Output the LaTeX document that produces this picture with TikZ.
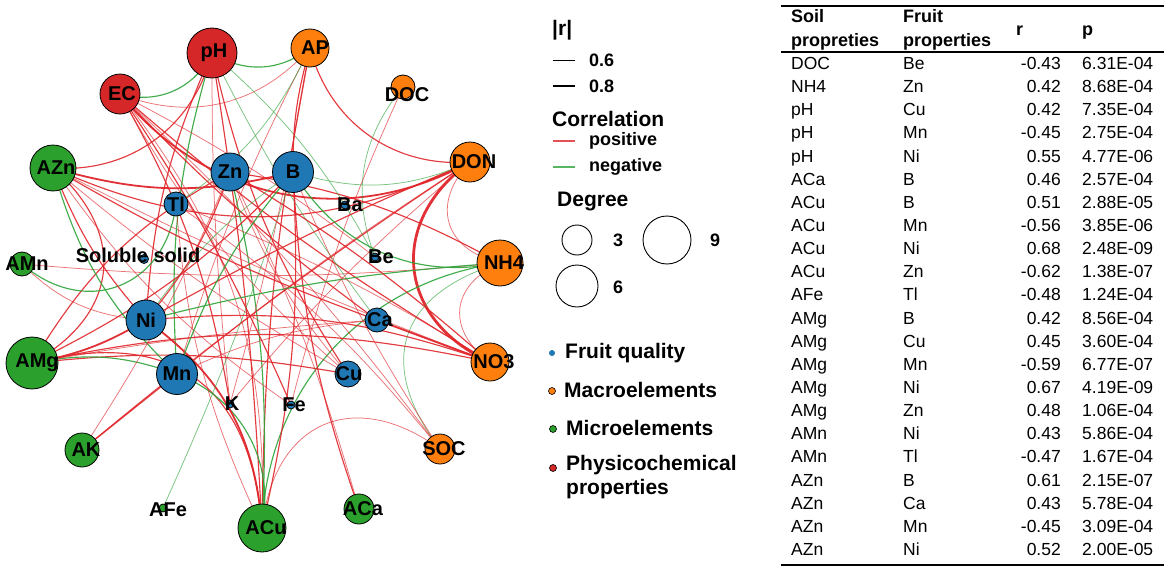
\documentclass[tikz,border=0pt]{standalone}
\usepackage{fontspec}
\setmainfont{Liberation Sans}
\usetikzlibrary{backgrounds}

\definecolor{fqblue}{HTML}{1F77B4}
\definecolor{maorange}{HTML}{FF7F0E}
\definecolor{migreen}{HTML}{2CA02C}
\definecolor{pcred}{HTML}{D62728}
\definecolor{edgered}{HTML}{E0262B}
\definecolor{edgegreen}{HTML}{2FA33A}

\tikzset{
  vtx/.style={circle, draw=black, line width=0.8pt, inner sep=0pt},
  fq/.style={vtx, fill=fqblue},
  ma/.style={vtx, fill=maorange},
  mi/.style={vtx, fill=migreen},
  pc/.style={vtx, fill=pcred},
  lbl/.style={inner sep=0pt, xshift=3pt, font=\bfseries\fontsize{20}{24}\selectfont},
  posc/.style={draw=edgered},
  negc/.style={draw=edgegreen},
  wthin/.style={line width=0.75pt, draw opacity=0.65},
  wmid/.style={line width=1.15pt, draw opacity=0.9},
  wthick/.style={line width=1.8pt, draw opacity=0.95},
  wheavy/.style={line width=2.8pt, draw opacity=0.95},
  ttl/.style={inner sep=0pt, anchor=west, font=\bfseries\fontsize{21}{25}\selectfont},
  itm/.style={inner sep=0pt, anchor=west, font=\bfseries\fontsize{18}{22}\selectfont},
  grp/.style={inner sep=0pt, anchor=west, font=\bfseries\fontsize{21}{25}\selectfont},
  cell/.style={inner sep=0pt, text height=12.5pt, text depth=3.5pt, font=\fontsize{17.5}{21}\selectfont},
  hcell/.style={inner sep=0pt, anchor=west, text height=12.5pt, text depth=3.5pt, font=\bfseries\fontsize{18}{21}\selectfont},
}

\begin{document}
\begin{tikzpicture}[x=1pt,y=-1pt]
\useasboundingbox (0,0) rectangle (1170,570);

% network nodes
\node[pc, minimum size=50pt, label={[lbl,xshift=-1pt]center:pH}] (pH) at (212,53) {};
\node[pc, minimum size=40pt, label={[lbl,xshift=-1pt]center:EC}] (EC) at (120,94) {};
\node[ma, minimum size=38pt, label={[lbl,xshift=2pt]center:AP}] (AP) at (310,48) {};
\node[ma, minimum size=24pt, label={[lbl,xshift=1pt,yshift=-8pt]center:DOC}] (DOC) at (403,87) {};
\node[ma, minimum size=40pt, label={[lbl,xshift=1pt]center:DON}] (DON) at (470,162) {};
\node[ma, minimum size=46pt, label={[lbl,xshift=1pt]center:NH4}] (NH4) at (500,263) {};
\node[ma, minimum size=38pt, label={[lbl,xshift=1pt]center:NO3}] (NO3) at (490,362) {};
\node[ma, minimum size=30pt, label={[lbl,xshift=1pt]center:SOC}] (SOC) at (440,449) {};
\node[mi, minimum size=30pt, label={[lbl,xshift=1pt]center:ACa}] (ACa) at (359,509) {};
\node[mi, minimum size=48pt, label={[lbl,xshift=1pt]center:ACu}] (ACu) at (262,528) {};
\node[mi, minimum size=8pt, label={[lbl,xshift=2pt,yshift=-2pt]center:AFe}] (AFe) at (163,508) {};
\node[mi, minimum size=34pt, label={[lbl,xshift=1pt]center:AK}] (AK) at (82,450) {};
\node[mi, minimum size=52pt, label={[lbl,xshift=2pt]center:AMg}] (AMg) at (32,363) {};
\node[mi, minimum size=24pt, label={[lbl,xshift=2pt]center:AMn}] (AMn) at (22,264) {};
\node[mi, minimum size=46pt, label={[lbl]center:AZn}] (AZn) at (53,168) {};
\node[fq, minimum size=38pt, label={[lbl,xshift=-3pt]center:Zn}] (Zn) at (230,172) {};
\node[fq, minimum size=41pt, label={[lbl,xshift=-3pt]center:B}] (B) at (293,172) {};
\node[fq, minimum size=24pt, label={[lbl,xshift=-3pt]center:Tl}] (Tl) at (176,204) {};
\node[fq, minimum size=9pt, label={[lbl,xshift=-9pt,yshift=4pt]center:Soluble solid}] (Sol) at (144,259) {};
\node[fq, minimum size=8pt, label={[lbl,xshift=2pt]center:Ba}] (Ba) at (345,205) {};
\node[fq, minimum size=8pt, label={[lbl,xshift=3pt]center:Be}] (Be) at (375,257) {};
\node[fq, minimum size=40pt, label={[lbl,xshift=-3pt]center:Ni}] (Ni) at (146,320) {};
\node[fq, minimum size=24pt, label={[lbl]center:Ca}] (Ca) at (377,320) {};
\node[fq, minimum size=41pt, label={[lbl,xshift=-3pt]center:Mn}] (Mn) at (177,374) {};
\node[fq, minimum size=26pt, label={[lbl,xshift=-2pt]center:Cu}] (Cu) at (348,374) {};
\node[fq, minimum size=8pt, label={[lbl,xshift=-1pt]center:K}] (K) at (230,404) {};
\node[fq, minimum size=8pt, label={[lbl]center:Fe}] (Fe) at (291,405) {};

% correlation edges
\begin{scope}[on background layer]
% soil - soil
\draw[negc,wmid] (EC.center) to[bend right=40] (pH.center);
\draw[negc,wmid] (pH.center) to[bend right=35] (AP.center);
\draw[posc,wthin] (EC.center) to[bend right=35] (AP.center);
\draw[posc,wmid] (AZn.center) to[bend right=40] (pH.center);
\draw[posc,wmid] (AP.center) to[bend right=40] (DON.center);
\draw[posc,wthin] (DON.center) to[bend right=60,looseness=1.4] (NH4.center);
\draw[posc,wthin] (NH4.center) to[bend right=60,looseness=1.4] (NO3.center);
\draw[posc,wheavy] (DON.center) to[bend right=60,looseness=1.3] (NO3.center);
\draw[posc,wthick] (DON.center) to[bend left=40] (EC.center);
\draw[posc,wmid] (DON.center) to[bend left=25] (AZn.center);
\draw[posc,wthin] (SOC.center) to[bend right=60,looseness=1.4] (ACu.center);
\draw[negc,wthin] (NH4.center) to[bend right=55,looseness=1.4] (SOC.center);
\draw[negc,wmid] (ACu.center) to[bend left=40] (NH4.center);
\draw[posc,wmid] (AZn.center) to[bend left=55,looseness=1.3] (AMg.center);
\draw[posc,wmid] (AMg.center) to[bend left=50,looseness=1.3] (ACu.center);
\draw[posc,wmid] (AMg.center) to[bend left=12] (NO3.center);
\draw[posc,wmid] (AK.center) to[bend left=3] (DON.center);
\draw[posc,wthin] (SOC.center) to[bend right=5] (EC.center);
\draw[posc,wthin] (AZn.center) to[bend right=3] (NO3.center);
\draw[posc,wthin] (NH4.center) to[bend left=5] (AMn.center);
\draw[posc,wmid] (EC.center) to[bend right=5] (NO3.center);
\draw[posc,wthin] (EC.center) to[bend left=20] (ACu.center);
\draw[posc,wmid] (AP.center) to[bend right=5] (ACu.center);
\draw[posc,wmid] (pH.center) to[bend left=3] (ACu.center);
% soil - fruit
\draw[negc,wthin] (DOC.center) to[bend right=30] (Be.center);
\draw[posc,wthin] (DOC.center) to[bend right=5] (Fe.center);
\draw[posc,wmid] (NH4.center) to[bend right=10] (Zn.center);
\draw[posc,wmid] (pH.center) to[bend right=10] (Cu.center);
\draw[negc,wmid] (pH.center) to[bend right=10] (Mn.center);
\draw[posc,wmid] (pH.center) to[bend right=10] (Ni.center);
\draw[posc,wthin] (pH.center) to[bend right=3] (K.center);
\draw[negc,wthin] (pH.center) to[bend right=5] (Ca.center);
\draw[negc,wthin] (pH.center) to[bend left=10] (Be.center);
\draw[posc,wmid] (ACa.center) to[bend left=8] (B.center);
\draw[posc,wthin] (ACa.center) to[bend right=5] (Zn.center);
\draw[posc,wmid] (ACu.center) to[bend right=8] (B.center);
\draw[negc,wmid] (ACu.center) to[bend right=40] (Mn.center);
\draw[posc,wthick] (ACu.center) to[bend right=25] (Ni.center);
\draw[negc,wmid] (ACu.center) to[bend right=8] (Zn.center);
\draw[negc,wthin] (AFe.center) to[bend right=3] (B.center);
\draw[posc,wmid] (AMg.center) to[bend right=10] (B.center);
\draw[posc,wmid] (AMg.center) to[bend left=8] (Cu.center);
\draw[negc,wmid] (AMg.center) to[bend left=15] (Mn.center);
\draw[posc,wthick] (AMg.center) to[bend right=10] (Ni.center);
\draw[posc,wmid] (AMg.center) to[bend left=15] (Zn.center);
\draw[posc,wthin] (AMn.center) to[bend right=20] (Ni.center);
\draw[negc,wmid] (AMn.center) to[bend right=62,looseness=1.3] (Tl.center);
\draw[posc,wthick] (AZn.center) to[bend right=15] (B.center);
\draw[posc,wmid] (AZn.center) to[bend right=5] (Ca.center);
\draw[negc,wmid] (AZn.center) to[bend right=15] (Mn.center);
\draw[posc,wmid] (AZn.center) to[bend right=10] (Ni.center);
\draw[posc,wthin] (AZn.center) to[bend right=5] (Cu.center);
\draw[posc,wthin] (AZn.center) to[bend right=10] (Fe.center);
\draw[posc,wmid] (AP.center) to[bend right=8] (B.center);
\draw[posc,wthin] (AP.center) to[bend left=3] (K.center);
\draw[posc,wthin] (AP.center) to[bend right=5] (Mn.center);
\draw[negc,wthin] (AP.center) to[bend left=15] (Tl.center);
\draw[posc,wmid] (EC.center) to[bend right=5] (Ca.center);
\draw[posc,wthin] (EC.center) to[bend left=5] (Be.center);
\draw[posc,wthin] (EC.center) to[bend right=10] (Cu.center);
\draw[posc,wmid] (EC.center) to[bend left=5] (Fe.center);
\draw[posc,wmid] (EC.center) to[bend left=10] (K.center);
\draw[posc,wmid] (AK.center) -- (Mn.center);
\draw[posc,wthin] (AK.center) to[bend right=5] (Zn.center);
\draw[posc,wmid] (DON.center) to[bend right=3] (Ni.center);
\draw[posc,wthin] (DON.center) to[bend right=3] (Mn.center);
\draw[posc,wthin] (DON.center) to[bend right=5] (K.center);
\draw[negc,wthin] (DON.center) to[bend left=20] (B.center);
\draw[negc,wmid] (NH4.center) to[bend left=35] (B.center);
\draw[negc,wmid] (Ni.center) to[bend left=5] (NH4.center);
\draw[posc,wthick] (NO3.center) -- (Ca.center);
\draw[posc,wmid] (NO3.center) to[bend right=5] (Zn.center);
\draw[posc,wthin] (NO3.center) to[bend right=5] (Tl.center);
\draw[posc,wmid] (NO3.center) to[bend right=12] (Ni.center);
\draw[posc,wthin] (AMg.center) to[bend left=3] (Ca.center);
\draw[posc,wthin] (SOC.center) to[bend left=5] (B.center);
\draw[posc,wthin] (SOC.center) to[bend right=8] (Tl.center);
% fruit - fruit
\draw[posc,wthin] (Tl.center) to[bend right=10] (ACu.center);
\draw[negc,wthin] (Ni.center) to[bend left=10] (B.center);
\draw[posc,wthin] (Zn.center) to[bend right=10] (Cu.center);
\draw[posc,wthin] (Mn.center) to[bend left=10] (Ca.center);
\draw[negc,wmid] (B.center) to[bend right=10] (Mn.center);
\draw[posc,wmid] (Zn.center) to[bend left=10] (Ni.center);
\end{scope}

% legend
\node[ttl] (rhead) at (552,30) {|r|};
\draw[line width=0.8pt] (553,60) -- (575,60);
\node[itm] (r06) at (589,60) {0.6};
\draw[line width=2.2pt] (553,86) -- (575,86);
\node[itm] (r08) at (589,86) {0.8};
\node[ttl] (corr) at (552,119) {Correlation};
\draw[edgered, line width=1.6pt, opacity=0.8] (553,141) -- (575,141);
\node[itm] (posi) at (589,141) {positive};
\draw[edgegreen, line width=1.6pt, opacity=0.8] (553,167) -- (575,167);
\node[itm] (nega) at (589,167) {negative};
\node[ttl] (deg) at (557,201) {Degree};
\node[circle, draw, line width=0.9pt, minimum size=30pt, inner sep=0pt] (d3) at (577,240) {};
\node[itm] (d3t) at (613,240) {3};
\node[circle, draw, line width=0.9pt, minimum size=48pt, inner sep=0pt] (d9) at (667,240) {};
\node[itm] (d9t) at (710,240) {9};
\node[circle, draw, line width=0.9pt, minimum size=42pt, inner sep=0pt] (d6) at (577,286) {};
\node[itm] (d6t) at (613,287) {6};
\node[circle, fill=fqblue, minimum size=6pt, inner sep=0pt] (gfq) at (552,353) {};
\node[grp] (gfqt) at (565,353) {Fruit quality};
\node[circle, fill=maorange, draw=black, line width=0.6pt, minimum size=7pt, inner sep=0pt] (gma) at (552,391) {};
\node[grp] (gmat) at (564,390) {Macroelements};
\node[circle, fill=migreen, draw=black, line width=0.6pt, minimum size=7pt, inner sep=0pt] (gmi) at (553,429) {};
\node[grp] (gmit) at (566,428) {Microelements};
\node[circle, fill=pcred, draw=black, line width=0.6pt, minimum size=7pt, inner sep=0pt] (gpc) at (553,468) {};
\node[grp] (gpct) at (566,465) {Physicochemical};
\node[grp] (gpct2) at (566,489) {properties};

% table
\draw[line width=1.5pt] (781,6) -- (1164,6);
\node[hcell] (hs1) at (791,18) {Soil};
\node[hcell] (hs2) at (791,42) {propreties};
\node[hcell] (hf1) at (903,18) {Fruit};
\node[hcell] (hf2) at (903,42) {properties};
\node[hcell] (hr) at (1016,31) {r};
\node[hcell] (hp) at (1082,31) {p};
\draw[line width=1.5pt] (781,52) -- (1164,52);
\foreach \s/\f/\r/\p [count=\i from 0] in {
  DOC/Be/-0.43/6.31E-04, NH4/Zn/0.42/8.68E-04, pH/Cu/0.42/7.35E-04,
  pH/Mn/-0.45/2.75E-04, pH/Ni/0.55/4.77E-06, ACa/B/0.46/2.57E-04,
  ACu/B/0.51/2.88E-05, ACu/Mn/-0.56/3.85E-06, ACu/Ni/0.68/2.48E-09,
  ACu/Zn/-0.62/1.38E-07, AFe/Tl/-0.48/1.24E-04, AMg/B/0.42/8.56E-04,
  AMg/Cu/0.45/3.60E-04, AMg/Mn/-0.59/6.77E-07, AMg/Ni/0.67/4.19E-09,
  AMg/Zn/0.48/1.06E-04, AMn/Ni/0.43/5.86E-04, AMn/Tl/-0.47/1.67E-04,
  AZn/B/0.61/2.15E-07, AZn/Ca/0.43/5.78E-04, AZn/Mn/-0.45/3.09E-04,
  AZn/Ni/0.52/2.00E-05}
{
  \node[cell, anchor=west] (s\i) at (791,{65+23.14*\i}) {\s};
  \node[cell, anchor=west] (f\i) at (903,{65+23.14*\i}) {\f};
  \node[cell, anchor=east] (r\i) at (1061,{65+23.14*\i}) {\r};
  \node[cell, anchor=west] (p\i) at (1082,{65+23.14*\i}) {\p};
}
\draw[line width=1.5pt] (781,565) -- (1164,565);
\end{tikzpicture}
\end{document}
